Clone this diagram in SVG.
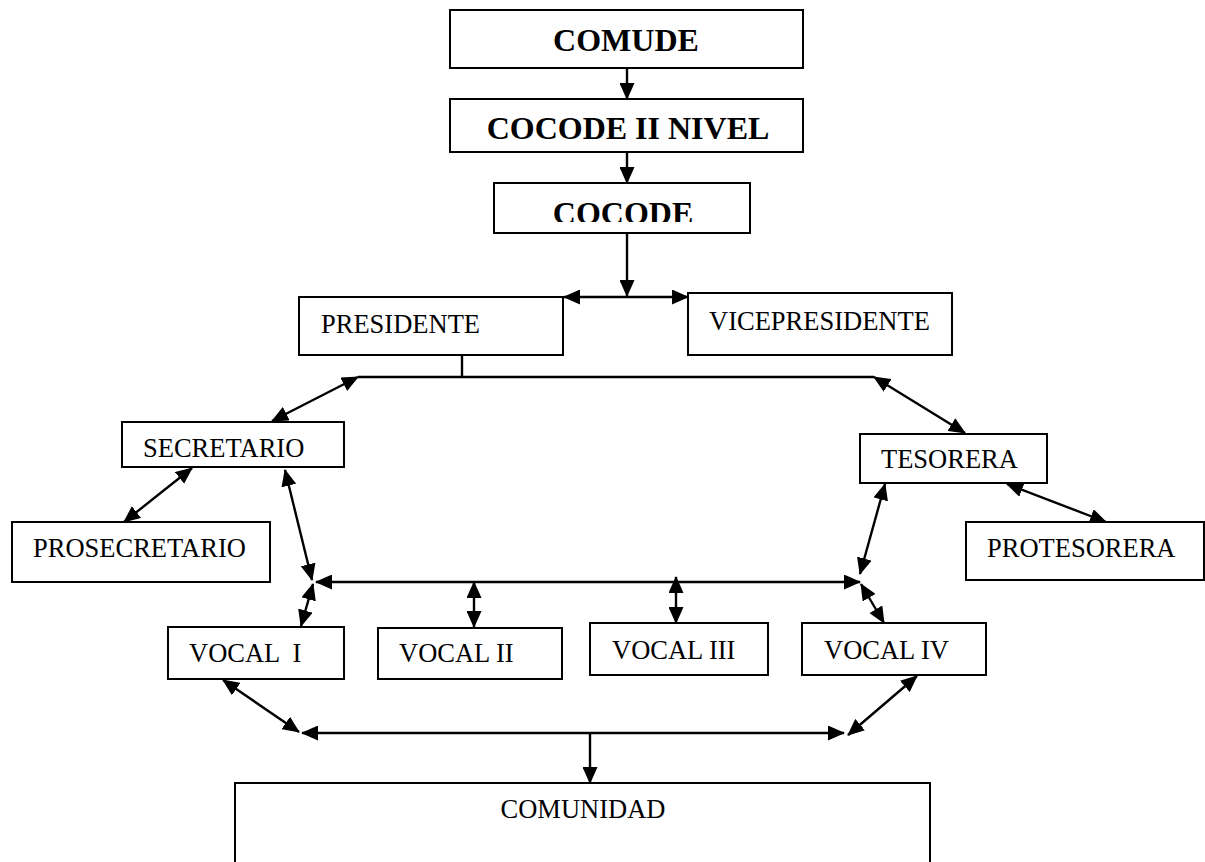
<svg xmlns="http://www.w3.org/2000/svg" width="1205" height="862" viewBox="0 0 1205 862">
<style>
.box{fill:#fff;stroke:#000;stroke-width:2}
.t{font-family:"Liberation Serif","Times New Roman",serif;font-size:26.5px;fill:#000}
.b{font-family:"Liberation Serif","Times New Roman",serif;font-size:32px;font-weight:bold;fill:#000;text-anchor:middle}
.c line{stroke:#000;stroke-width:2.4}
.a1{marker-end:url(#ah)}
.a2{marker-start:url(#ah);marker-end:url(#ah)}
</style>
<defs>
<marker id="ah" markerUnits="userSpaceOnUse" markerWidth="17" markerHeight="15" refX="16" refY="7.5" orient="auto-start-reverse" viewBox="0 0 17 15">
<path d="M0,0 L17,7.5 L0,15 z" fill="#000"/>
</marker>
<clipPath id="cc"><rect x="494" y="183" width="256" height="39"/></clipPath>
</defs>
<rect width="1205" height="862" fill="#fff"/>
<g id="connectors" class="c">
<line class="a1" x1="627" y1="68" x2="627" y2="99"/>
<line class="a1" x1="627" y1="152" x2="627" y2="183"/>
<line class="a1" x1="627" y1="233" x2="627" y2="296"/>
<line class="a2" x1="564" y1="297" x2="688" y2="297"/>
<line x1="462" y1="355" x2="462" y2="377"/>
<line x1="358" y1="377" x2="874" y2="377"/>
<line class="a2" x1="358" y1="377" x2="272" y2="421"/>
<line class="a2" x1="874" y1="377" x2="965" y2="433"/>
<line class="a2" x1="192" y1="468" x2="124" y2="522"/>
<line class="a2" x1="285" y1="470" x2="312" y2="580"/>
<line class="a2" x1="1007" y1="484" x2="1106" y2="522"/>
<line class="a2" x1="885" y1="484" x2="860" y2="574"/>
<line class="a2" x1="316" y1="582" x2="860" y2="582"/>
<line class="a2" x1="313" y1="584" x2="301" y2="626"/>
<line class="a2" x1="474" y1="582" x2="474" y2="627"/>
<line class="a2" x1="676" y1="577" x2="676" y2="623"/>
<line class="a2" x1="861" y1="584" x2="884" y2="623"/>
<line class="a2" x1="302" y1="733" x2="844" y2="733"/>
<line class="a2" x1="223" y1="680" x2="299" y2="732"/>
<line class="a2" x1="917" y1="676" x2="848" y2="735"/>
<line class="a1" x1="590" y1="733" x2="590" y2="783"/>
</g>
<g id="comude"><rect class="box" x="450" y="10" width="353" height="58"/><text class="b" x="626" y="51">COMUDE</text></g>
<g id="cocode2"><rect class="box" x="450" y="99" width="353" height="53"/><text class="b" x="628" y="139">COCODE II NIVEL</text></g>
<g id="cocode"><rect class="box" x="494" y="183" width="256" height="50"/><text class="b" x="623" y="224" clip-path="url(#cc)">COCODE</text></g>
<g id="presidente"><rect class="box" x="299" y="297" width="264" height="58"/><text class="t" x="321" y="333">PRESIDENTE</text></g>
<g id="vicepresidente"><rect class="box" x="688" y="293" width="264" height="62"/><text class="t" x="709" y="330">VICEPRESIDENTE</text></g>
<g id="secretario"><rect class="box" x="122" y="422" width="222" height="45"/><text class="t" x="143" y="457">SECRETARIO</text></g>
<g id="tesorera"><rect class="box" x="860" y="434" width="187" height="49"/><text class="t" x="881" y="468">TESORERA</text></g>
<g id="prosecretario"><rect class="box" x="12" y="522" width="258" height="60"/><text class="t" x="33" y="557">PROSECRETARIO</text></g>
<g id="protesorera"><rect class="box" x="966" y="522" width="238" height="58"/><text class="t" x="987" y="557">PROTESORERA</text></g>
<g id="vocal1"><rect class="box" x="168" y="627" width="176" height="52"/><text class="t" x="189" y="662" xml:space="preserve">VOCAL  I</text></g>
<g id="vocal2"><rect class="box" x="378" y="628" width="184" height="51"/><text class="t" x="399" y="662">VOCAL II</text></g>
<g id="vocal3"><rect class="box" x="590" y="623" width="178" height="52"/><text class="t" x="612" y="659">VOCAL III</text></g>
<g id="vocal4"><rect class="box" x="802" y="623" width="184" height="52"/><text class="t" x="824" y="659">VOCAL IV</text></g>
<g id="comunidad"><rect class="box" x="235" y="783" width="695" height="90"/><text class="t" x="583" y="818" text-anchor="middle">COMUNIDAD</text></g>
</svg>
